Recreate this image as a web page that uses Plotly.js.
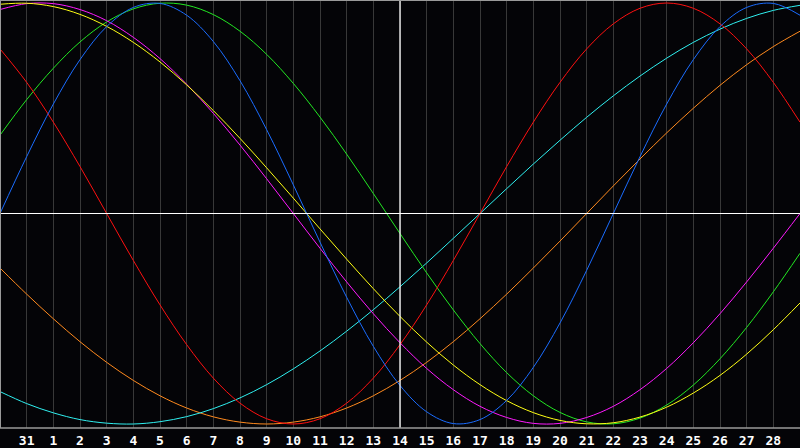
<!DOCTYPE html>
<html>
<head>
<meta charset="utf-8">
<script src="https://cdn.plot.ly/plotly-3.0.1.min.js"></script>
<style>
  html, body { margin: 0; padding: 0; background: #040407; }
  #plot { width: 800px; height: 448px; }
</style>
</head>
<body>
<div id="plot"></div>
<script>
// day index across the chart, 0 = left edge, 30 = right edge
const days = [0, 1, 2, 3, 4, 5, 6, 7, 8, 9, 10, 11, 12, 13, 14, 15, 16, 17, 18, 19, 20, 21, 22, 23, 24, 25, 26, 27, 28, 29, 30];

const tickDays = [1, 2, 3, 4, 5, 6, 7, 8, 9, 10, 11, 12, 13, 14, 15, 16, 17, 18, 19, 20, 21, 22, 23, 24, 25, 26, 27, 28, 29];
const tickLabels = ["31", "1", "2", "3", "4", "5", "6", "7", "8", "9", "10", "11", "12", "13", "14",
    "15", "16", "17", "18", "19", "20", "21", "22", "23", "24", "25", "26", "27", "28"];

// values (-1 .. 1)
const blue = [0, 0.270, 0.520, 0.731, 0.888, 0.979, 0.998, 0.942, 0.817, 0.631, 0.398, 0.136, -0.136, -0.398, -0.631, -0.817,
    -0.942, -0.998, -0.979, -0.888, -0.731, -0.520, -0.270, 0, 0.270, 0.520, 0.731, 0.888, 0.979, 0.998, 0.942];
const red = [0.782, 0.623, 0.434, 0.223, 0, -0.223, -0.434, -0.623, -0.782, -0.901, -0.975, -1, -0.975, -0.901, -0.782, -0.623,
    -0.434, -0.223, 0, 0.223, 0.434, 0.623, 0.782, 0.901, 0.975, 1, 0.975, 0.901, 0.782, 0.623, 0.434];
const green = [0.372, 0.541, 0.690, 0.815, 0.910, 0.972, 0.999, 0.990, 0.945, 0.866, 0.756, 0.618, 0.458, 0.282, 0.095, -0.095,
    -0.282, -0.458, -0.618, -0.756, -0.866, -0.945, -0.990, -0.999, -0.972, -0.910, -0.815, -0.690, -0.541, -0.372, -0.189];
const magenta = [0.969, 0.997, 0.997, 0.969, 0.916, 0.837, 0.736, 0.614, 0.476, 0.325, 0.165, 0, -0.165, -0.325, -0.476, -0.614,
    -0.736, -0.837, -0.916, -0.969, -0.997, -0.997, -0.969, -0.916, -0.837, -0.736, -0.614, -0.476, -0.325, -0.165, 0];
const yellow = [0.994, 0.999, 0.983, 0.946, 0.889, 0.813, 0.720, 0.611, 0.489, 0.357, 0.217, 0.073, -0.073, -0.217, -0.357, -0.489,
    -0.611, -0.720, -0.813, -0.889, -0.946, -0.983, -0.999, -0.994, -0.967, -0.920, -0.853, -0.769, -0.668, -0.552, -0.425];
const orange = [-0.259, -0.383, -0.5, -0.609, -0.707, -0.793, -0.866, -0.924, -0.966, -0.991, -1, -0.991, -0.966, -0.924, -0.866, -0.793,
    -0.707, -0.609, -0.5, -0.383, -0.259, -0.131, 0, 0.131, 0.259, 0.383, 0.5, 0.609, 0.707, 0.793, 0.866];
const cyan = [-0.846, -0.903, -0.947, -0.979, -0.996, -1.0, -0.989, -0.965, -0.927, -0.876, -0.813, -0.738, -0.653, -0.559, -0.457, -0.348,
    -0.235, -0.118, 0, 0.118, 0.235, 0.348, 0.457, 0.559, 0.653, 0.738, 0.813, 0.876, 0.927, 0.965, 0.989];

const series = [
    [orange, "#ff8a1e"],
    [cyan, "#2ff0f0"],
    [green, "#22e822"],
    [magenta, "#ff1aff"],
    [yellow, "#ffff14"],
    [red, "#ff1010"],
    [blue, "#1a6cff"]
];

const traces = series.map(([vals, color]) => ({
    type: "scatter",
    mode: "lines",
    x: days,
    y: vals,
    line: { color: color, width: 1, shape: "spline", smoothing: 1 },
    hoverinfo: "skip",
    showlegend: false
}));

const border = "#9a9a9a";

Plotly.newPlot("plot", traces, {
    width: 800,
    height: 448,
    margin: { l: 0, r: 0, t: 0, b: 20 },
    paper_bgcolor: "#040407",
    plot_bgcolor: "#040407",
    showlegend: false,
    xaxis: {
        range: [0, 30],
        tickvals: tickDays,
        ticktext: tickLabels,
        showgrid: true,
        gridcolor: "#383838",
        gridwidth: 1,
        zeroline: false,
        ticks: "",
        ticklabelstandoff: 3,
        tickfont: { family: "DejaVu Sans Mono", size: 13, color: "#ffffff", weight: "bold" },
        fixedrange: true
    },
    yaxis: {
        range: [-1.019, 1.0143],
        showgrid: false,
        zeroline: false,
        showticklabels: false,
        ticks: "",
        fixedrange: true
    },
    shapes: [
        // centre cross
        { type: "line", layer: "above", xref: "x", yref: "paper", x0: 15, x1: 15, y0: 0, y1: 1, line: { color: "#ffffff", width: 1.3 } },
        { type: "line", layer: "above", xref: "paper", yref: "y", x0: 0, x1: 1, y0: 0, y1: 0, line: { color: "#ffffff", width: 1.2 } },
        // frame
        { type: "line", xref: "paper", yref: "paper", x0: 0, x1: 0, y0: 0, y1: 1, line: { color: border, width: 2 } },
        { type: "line", xref: "paper", yref: "paper", x0: 0, x1: 1, y0: 1, y1: 1, line: { color: border, width: 2 } },
        { type: "line", xref: "paper", yref: "paper", x0: 0, x1: 1, y0: 0, y1: 0, line: { color: border, width: 1.5 } }
    ]
}, { staticPlot: true });
</script>
</body>
</html>
